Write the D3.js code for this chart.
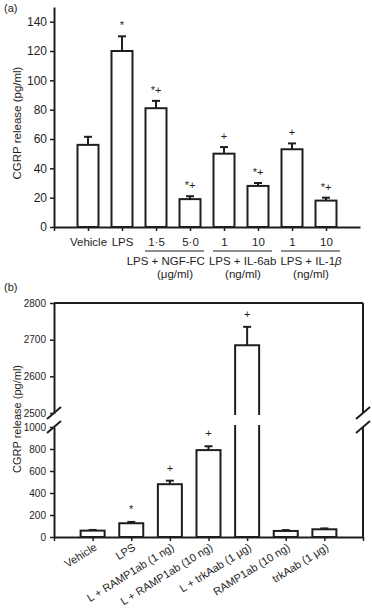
<!DOCTYPE html>
<html>
<head>
<meta charset="utf-8">
<script src="https://cdn.jsdelivr.net/npm/d3@7"></script>
<style>
  body { margin: 0; background: #fff; }
  svg { display: block; font-family: 'Liberation Sans', Arial, sans-serif; }
</style>
</head>
<body>
<div id="chart"></div>
<script>
// ---- data, panel (a) ----
const catsA = ['Vehicle', 'LPS', '1·5', '5·0', '1', '10', '1', '10'];
const meanA = [56, 120, 81, 19, 50, 28, 53, 18];
const semA = [5.5, 10, 5, 2, 4.5, 2, 4, 2];
const sigA = ['', '*', '*+', '*+', '+', '*+', '+', '*+'];
const ticksA = [0, 20, 40, 60, 80, 100, 120, 140];
// groups under the x axis: first and last bar index, two text lines
const groupsA = [
  { from: 2, to: 3, line1: 'LPS + NGF-FC', line2: '(μg/ml)' },
  { from: 4, to: 5, line1: 'LPS + IL-6ab', line2: '(ng/ml)' },
  { from: 6, to: 7, line1: 'LPS + IL-1', greek: 'β', line2: '(ng/ml)' }
];

// ---- data, panel (b) ----
const catsB = ['Vehicle', 'LPS', 'L + RAMP1ab (1 ng)', 'L + RAMP1ab (10 ng)',
  'L + trkAab (1 μg)', 'RAMP1ab (10 ng)', 'trkAab (1 μg)'];
const meanB = [58, 125, 480, 790, 2685, 55, 70];
const semB = [6, 12, 32, 35, 50, 8, 8];
const sigB = ['', '*', '+', '+', '+', '', ''];
const ticksBLow = [0, 200, 400, 600, 800, 1000];
const ticksBHigh = [2500, 2600, 2700, 2800];

const width = 372;
const height = 615;
const ink = '#1e1e1e';
const labelSize = 11.5;

const svg = d3
  .select('#chart')
  .append('svg')
  .attr('width', width)
  .attr('height', height);

function styleAxis(g, size) {
  g.attr('font-family', null);
  g.select('.domain').attr('stroke', ink).attr('stroke-width', 2);
  g.selectAll('.tick line').attr('stroke', ink).attr('stroke-width', 1.5);
  g.selectAll('.tick text').attr('fill', ink).attr('font-size', size);
}

function errorBar(g, cx, yTop, yErr) {
  g.append('line')
    .attr('x1', cx).attr('x2', cx)
    .attr('y1', yTop).attr('y2', yErr)
    .attr('stroke', ink).attr('stroke-width', 2);
  g.append('line')
    .attr('x1', cx - 4).attr('x2', cx + 4)
    .attr('y1', yErr).attr('y2', yErr)
    .attr('stroke', ink).attr('stroke-width', 2);
}

// =================== panel (a) ===================
const xA = d3.scaleLinear().domain([0, 9]).range([54, 360]);
const yA = d3.scaleLinear().domain([0, 150]).range([227, 7]);
const barWA = 21;

svg.append('text')
  .attr('x', 4).attr('y', 12)
  .attr('font-size', 11).attr('fill', ink)
  .text('(a)');

const gA = svg.append('g');

// bars
catsA.forEach((c, i) => {
  const cx = xA(i + 1);
  errorBar(gA, cx, yA(meanA[i]), yA(meanA[i] + semA[i]));
  gA.append('rect')
    .attr('x', cx - barWA / 2)
    .attr('y', yA(meanA[i]))
    .attr('width', barWA)
    .attr('height', yA(0) - yA(meanA[i]))
    .attr('fill', '#fff')
    .attr('stroke', ink)
    .attr('stroke-width', 2);
  if (sigA[i]) {
    gA.append('text')
      .attr('x', cx).attr('y', yA(meanA[i] + semA[i]) - 7)
      .attr('text-anchor', 'middle')
      .attr('font-size', 11).attr('fill', ink)
      .text(sigA[i]);
  }
});

// axes
gA.append('g')
  .attr('transform', `translate(${xA(0)},0)`)
  .call(d3.axisLeft(yA).tickValues(ticksA).tickSize(4).tickSizeOuter(0).tickPadding(3))
  .call(styleAxis, 12);

gA.append('g')
  .attr('transform', `translate(0,${yA(0)})`)
  .call(d3.axisBottom(xA)
    .tickValues(d3.range(0, 9))
    .tickFormat(d => (d === 0 ? '' : catsA[d - 1]))
    .tickSize(4).tickSizeOuter(0).tickPadding(7))
  .call(styleAxis, labelSize);

// group underlines and labels
const firstLines = [];
groupsA.forEach(grp => {
  const x0 = xA(grp.from + 1) - 11;
  const x1 = xA(grp.to + 1) + 14;
  const mid = (xA(grp.from + 1) + xA(grp.to + 1)) / 2 + 2;
  gA.append('line')
    .attr('x1', x0).attr('x2', x1)
    .attr('y1', 251).attr('y2', 251)
    .attr('stroke', ink).attr('stroke-width', 1.2);
  const t1 = gA.append('text')
    .attr('x', mid).attr('y', 265)
    .attr('text-anchor', 'middle')
    .attr('font-size', labelSize).attr('fill', ink)
    .text(grp.line1);
  if (grp.greek) t1.append('tspan').attr('font-style', 'italic').text(grp.greek);
  firstLines.push(t1);
  gA.append('text')
    .attr('x', mid).attr('y', 278)
    .attr('text-anchor', 'middle')
    .attr('font-size', labelSize).attr('fill', ink)
    .text(grp.line2);
});

// push a group label left if it runs into the next one
for (let i = firstLines.length - 2; i >= 0; i--) {
  const a = firstLines[i].node().getBBox();
  const b = firstLines[i + 1].node().getBBox();
  const overlap = a.x + a.width + 4 - b.x;
  if (overlap > 0) firstLines[i].attr('x', +firstLines[i].attr('x') - overlap);
}

// y title
svg.append('text')
  .attr('transform', 'translate(17,123) rotate(-90)')
  .attr('text-anchor', 'middle')
  .attr('dy', '0.35em')
  .attr('font-size', labelSize).attr('fill', ink)
  .text('CGRP release (pg/ml)');

// =================== panel (b) ===================
const xB = d3.scaleLinear().domain([0, 8]).range([54, 363]);
const yBLow = d3.scaleLinear().domain([0, 1000]).range([537, 427]);
const yBHigh = d3.scaleLinear().domain([2500, 2800]).range([413, 303]);
const yB = v => (v <= 1000 ? yBLow(v) : yBHigh(v));
const barWB = 24;

svg.append('text')
  .attr('x', 4).attr('y', 291)
  .attr('font-size', 11).attr('fill', ink)
  .text('(b)');

const gB = svg.append('g');

catsB.forEach((c, i) => {
  const cx = xB(i + 1);
  const x0 = cx - barWB / 2;
  const x1 = cx + barWB / 2;
  const v = meanB[i];
  errorBar(gB, cx, yB(v), yB(v + semB[i]));
  if (v <= 1000) {
    gB.append('rect')
      .attr('x', x0).attr('y', yB(v))
      .attr('width', barWB).attr('height', yBLow(0) - yB(v))
      .attr('fill', '#fff')
      .attr('stroke', ink).attr('stroke-width', 2);
  } else {
    // broken bar: lower and upper parts
    const lowTop = yBLow(1000) - 2;
    const highBottom = yBHigh(2500) + 2;
    gB.append('path')
      .attr('d', `M${x0},${lowTop}V${yBLow(0)}H${x1}V${lowTop}`)
      .attr('fill', '#fff')
      .attr('stroke', ink).attr('stroke-width', 2);
    gB.append('path')
      .attr('d', `M${x0},${highBottom}V${yB(v)}H${x1}V${highBottom}`)
      .attr('fill', '#fff')
      .attr('stroke', ink).attr('stroke-width', 2);
  }
  if (sigB[i]) {
    gB.append('text')
      .attr('x', cx).attr('y', yB(v + semB[i]) - 9)
      .attr('text-anchor', 'middle')
      .attr('font-size', 11).attr('fill', ink)
      .text(sigB[i]);
  }
});

// frame: top and right
gB.append('line')
  .attr('x1', xB(0)).attr('x2', xB(8))
  .attr('y1', yBHigh(2800)).attr('y2', yBHigh(2800))
  .attr('stroke', ink).attr('stroke-width', 2);
gB.append('line')
  .attr('x1', xB(8)).attr('x2', xB(8))
  .attr('y1', yBHigh(2800)).attr('y2', yBHigh(2500))
  .attr('stroke', ink).attr('stroke-width', 2);
gB.append('line')
  .attr('x1', xB(8)).attr('x2', xB(8))
  .attr('y1', yBLow(1000)).attr('y2', yBLow(0))
  .attr('stroke', ink).attr('stroke-width', 2);

// axes
gB.append('g')
  .attr('transform', `translate(${xB(0)},0)`)
  .call(d3.axisLeft(yBHigh).tickValues(ticksBHigh).tickFormat(d3.format('d'))
    .tickSize(4).tickSizeOuter(0).tickPadding(4))
  .call(styleAxis, 10);
gB.append('g')
  .attr('transform', `translate(${xB(0)},0)`)
  .call(d3.axisLeft(yBLow).tickValues(ticksBLow).tickFormat(d3.format('d'))
    .tickSize(4).tickSizeOuter(0).tickPadding(4))
  .call(styleAxis, 10);
gB.append('g')
  .attr('transform', `translate(0,${yBLow(0)})`)
  .call(d3.axisBottom(xB).tickValues(d3.range(0, 9)).tickFormat('').tickSize(4).tickSizeOuter(0))
  .call(styleAxis, 10);

// break marks
[xB(0), xB(8)].forEach(bx => {
  [yBHigh(2500), yBLow(1000)].forEach(by => {
    gB.append('line')
      .attr('x1', bx - 7).attr('y1', by + 6)
      .attr('x2', bx + 7).attr('y2', by - 6)
      .attr('stroke', ink).attr('stroke-width', 2);
  });
});

// rotated category labels
catsB.forEach((c, i) => {
  gB.append('text')
    .attr('transform', `translate(${xB(i + 1) + 3},546) rotate(-32)`)
    .attr('text-anchor', 'end')
    .attr('dy', '0.35em')
    .attr('font-size', 11).attr('fill', ink)
    .text(c);
});

svg.append('text')
  .attr('transform', 'translate(17,419) rotate(-90)')
  .attr('text-anchor', 'middle')
  .attr('dy', '0.35em')
  .attr('font-size', 11).attr('fill', ink)
  .text('CGRP release (pg/ml)');
</script>
</body>
</html>
